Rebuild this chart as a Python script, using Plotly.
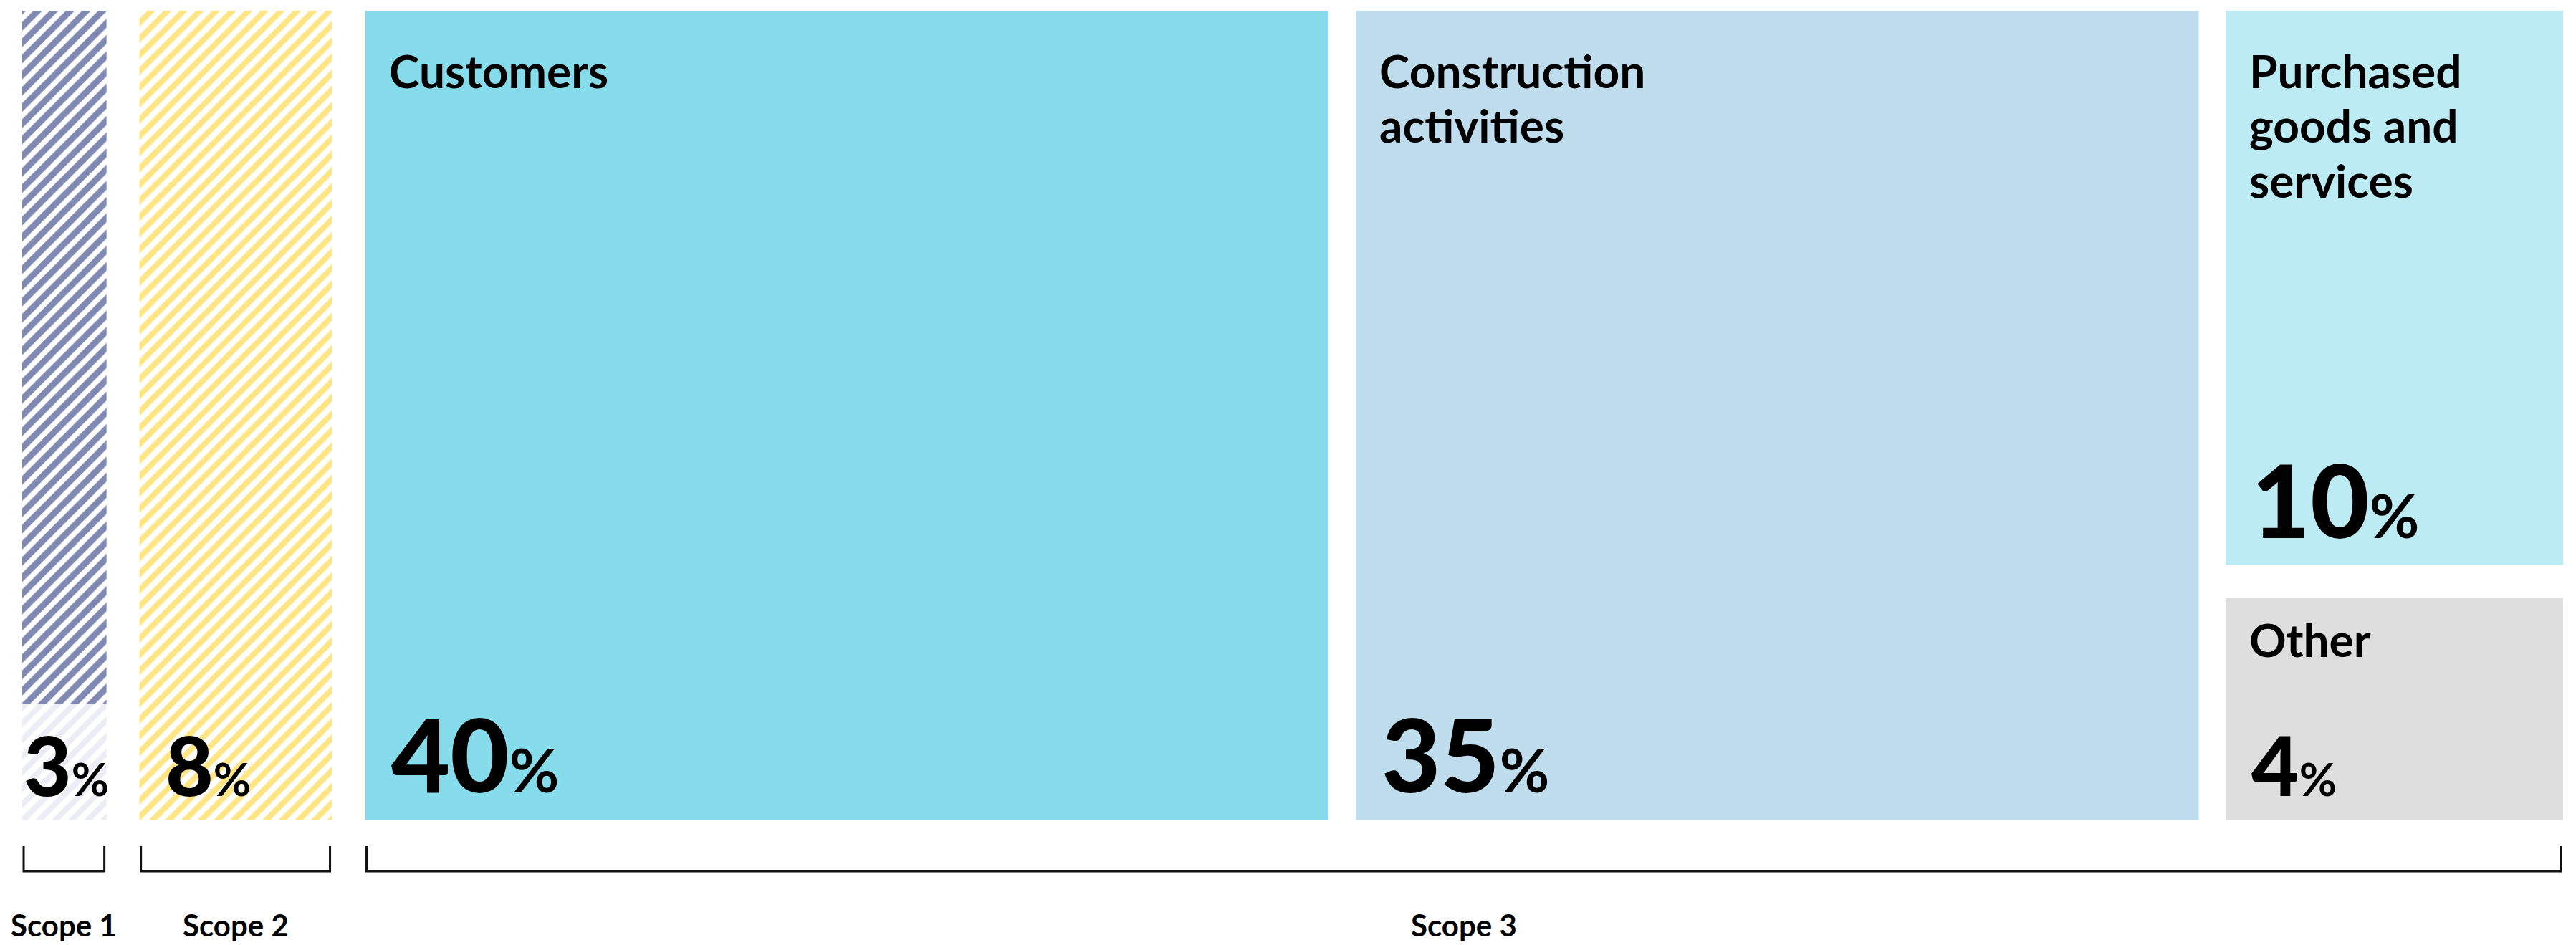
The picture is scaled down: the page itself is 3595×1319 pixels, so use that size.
import plotly.graph_objects as go

# ----------------------------- data -----------------------------
scope_labels = ["Scope 1", "Scope 2", "Scope 3"]
scope1_share = 3
scope2_share = 8
scope3_categories = ["Customers", "Construction activities",
                     "Purchased goods and services", "Other"]
scope3_display = ["Customers", "Construction<br>activities",
                  "Purchased<br>goods and<br>services", "Other"]
scope3_shares = [40, 35, 10, 4]
# categories sharing one column (stacked top -> bottom)
scope3_columns = [[0], [1], [2, 3]]

# ----------------------------- style -----------------------------
W, H = 3595, 1319
PX_LEFT, PX_RIGHT, PX_TOP, PX_BOTTOM = 31, 3577, 15, 1144
GAP_SCOPE_PX, GAP_INNER_PX, GAP_STACK_PX = 46, 38, 46
MIN_COL_UNITS = 3.5
LABEL_ZONE_PX = 162
FONT = "Lato"
ASC, DESC = 0.987, 0.213
NAVY, NAVY_LIGHT, YELLOW = "#001466", "#D9DCEA", "#FFCC0A"
FILLS = {"Customers": "#86DCEB", "Construction activities": "#BFDDED",
         "Purchased goods and services": "#BCEBF3", "Other": "#DEDEDE"}

# ----------------------------- columns -----------------------------
columns = [
    dict(scope=0, items=[dict(label=None, value=scope1_share, kind="scope1")]),
    dict(scope=1, items=[dict(label=None, value=scope2_share, kind="scope2")]),
]
for grp in scope3_columns:
    columns.append(dict(scope=2, items=[dict(label=scope3_display[i], value=scope3_shares[i],
                                             kind=scope3_categories[i]) for i in grp]))

col_units = [max(sum(it["value"] for it in c["items"]), MIN_COL_UNITS) for c in columns]
gaps_px = [GAP_SCOPE_PX if columns[i]["scope"] != columns[i + 1]["scope"] else GAP_INNER_PX
           for i in range(len(columns) - 1)]
kx = (PX_RIGHT - PX_LEFT - sum(gaps_px)) / sum(col_units)
ky = (PX_BOTTOM - PX_TOP) / 100.0

x = 0.0
for i, c in enumerate(columns):
    c["left"], c["right"] = x, x + col_units[i]
    x = c["right"] + (gaps_px[i] / kx if i < len(gaps_px) else 0)
    tot = sum(it["value"] for it in c["items"])
    avail = 100 - (len(c["items"]) - 1) * GAP_STACK_PX / ky
    top = 100.0
    for it in c["items"]:
        h = avail * it["value"] / tot
        it["top"], it["bottom"] = top, top - h
        top = top - h - GAP_STACK_PX / ky

fig = go.Figure()


def add_bar(left, right, bottom, top, color, pattern=None):
    marker = dict(color=color, line=dict(width=0))
    if pattern:
        marker["pattern"] = pattern
    fig.add_trace(go.Bar(x=[(left + right) / 2], y=[top - bottom], base=[bottom],
                         width=[right - left], marker=marker, hoverinfo="skip",
                         showlegend=False))


annotations = []


def text_at(xv, yv, txt, size, weight, xshift, base_off_px):
    # baseline placed base_off_px (screen px, downward) below data point yv
    annotations.append(dict(x=xv, y=yv, xref="x", yref="y", text=txt, showarrow=False,
                            xanchor="left", yanchor="bottom", align="left",
                            xshift=xshift, yshift=-(base_off_px + DESC * size + 1),
                            font=dict(family=FONT, size=size, color="#000", weight=weight)))


for c in columns:
    for it in c["items"]:
        L, R, B, T = c["left"], c["right"], it["bottom"], it["top"]
        if it["kind"] == "scope1":
            zone = LABEL_ZONE_PX / ky
            add_bar(L, R, B + zone, T, "white",
                    dict(shape="/", fgcolor=NAVY, bgcolor="white", size=16, solidity=0.55))
            add_bar(L, R, B, B + zone, "white",
                    dict(shape="/", fgcolor=NAVY_LIGHT, bgcolor="white", size=16, solidity=0.5))
        elif it["kind"] == "scope2":
            add_bar(L, R, B, T, "white",
                    dict(shape="/", fgcolor=YELLOW, bgcolor="white", size=16, solidity=0.5))
        else:
            add_bar(L, R, B, T, FILLS[it["kind"]])
        box_w = (R - L) * kx
        box_h = (T - B) * ky
        # category label (top-left)
        if it["label"]:
            first = min(109, 0.27 * box_h)
            for j, line in enumerate(it["label"].split("<br>")):
                text_at(L, T, line, 64, 700, 31, first + j * 76.5)
        # percentage (bottom-left)
        big = it["value"] >= 10
        dsz, psz = (142, 85) if big else (115, 64)
        inset = 34 if box_w > 200 else 0
        txt = f"{it['value']}<span style='font-size:{psz}px;font-weight:700'>%</span>"
        text_at(L, B, txt, dsz, 900, inset, -(37 if big else 32))

# brackets + scope labels
y_top = -(1181 - PX_BOTTOM) / ky
y_bot = -(1216 - PX_BOTTOM) / ky
for s, name in enumerate(scope_labels):
    cols = [c for c in columns if c["scope"] == s]
    L = min(c["left"] for c in cols) + 2 / kx
    R = max(c["right"] for c in cols) - 3 / kx
    fig.add_trace(go.Scatter(x=[L, L, R, R], y=[y_top, y_bot, y_bot, y_top], mode="lines",
                             line=dict(color="#111111", width=3), hoverinfo="skip",
                             showlegend=False))
    annotations.append(dict(x=(L + R) / 2, y=y_bot, xref="x", yref="y", text=name,
                            showarrow=False, xanchor="center", yanchor="bottom",
                            yshift=-(92 + DESC * 42 + 1),
                            font=dict(family=FONT, size=42, color="#000", weight=700)))

fig.update_layout(
    width=W, height=H, margin=dict(l=0, r=0, t=0, b=0),
    paper_bgcolor="white", plot_bgcolor="white", barmode="overlay",
    xaxis=dict(range=[-PX_LEFT / kx, (W - PX_LEFT) / kx], visible=False, fixedrange=True),
    yaxis=dict(range=[-(H - PX_BOTTOM) / ky, 100 + PX_TOP / ky], visible=False, fixedrange=True),
    annotations=annotations, showlegend=False,
)

fig.write_html("out.html", config={"displayModeBar": False})
